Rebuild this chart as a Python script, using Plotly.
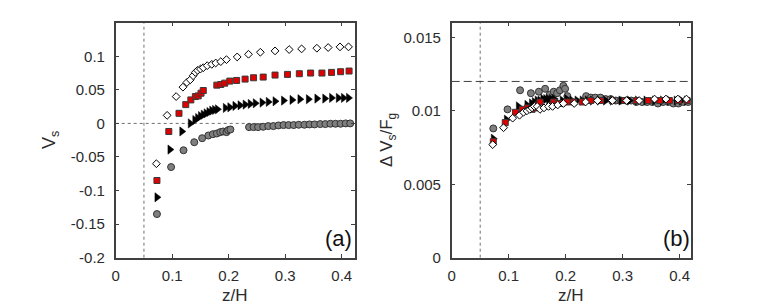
import plotly.graph_objects as go

# ---------------- data ----------------
# open diamonds
z_dia = [0.072, 0.091, 0.107, 0.119, 0.126, 0.132, 0.137, 0.141, 0.145, 0.150, 0.155, 0.162, 0.170,
         0.177, 0.186, 0.196, 0.215, 0.235, 0.256, 0.282, 0.307, 0.329, 0.356, 0.376, 0.397, 0.412]
vs_dia = [-0.060, 0.012, 0.040, 0.054, 0.061, 0.065, 0.071, 0.076, 0.079, 0.081, 0.083, 0.086, 0.088,
          0.090, 0.092, 0.095, 0.099, 0.103, 0.106, 0.108, 0.110, 0.111, 0.112, 0.113, 0.114, 0.114]
dv_dia = [0.0077, 0.00885, 0.0095, 0.0097, 0.0099, 0.0100, 0.0101, 0.0102, 0.0103, 0.0103, 0.0101, 0.0102, 0.0103,
          0.0103, 0.0104, 0.0105, 0.0105, 0.0106, 0.0107, 0.0107, 0.0107, 0.0107, 0.0108, 0.0108, 0.0108, 0.0108]

# red squares
z_sq = [0.073, 0.094, 0.112, 0.124, 0.133, 0.141, 0.146, 0.151, 0.155, 0.179, 0.186, 0.193, 0.202,
        0.214, 0.229, 0.244, 0.261, 0.282, 0.304, 0.325, 0.345, 0.365, 0.382, 0.398, 0.413]
vs_sq = [-0.085, -0.012, 0.015, 0.028, 0.035, 0.040, 0.041, 0.045, 0.049, 0.057, 0.058, 0.060, 0.063,
         0.064, 0.066, 0.068, 0.069, 0.072, 0.073, 0.074, 0.075, 0.075, 0.076, 0.077, 0.078]
dv_sq = [0.0079, 0.0092, 0.0099, 0.0101, 0.0102, 0.0101, 0.0102, 0.0104, 0.0106, 0.0106, 0.0105, 0.0105, 0.0106,
         0.0106, 0.0106, 0.0107, 0.0107, 0.0107, 0.0107, 0.0107, 0.0107, 0.0107, 0.0107, 0.0107, 0.0107]

# black triangles
z_tri = [0.073, 0.096, 0.117, 0.132, 0.140, 0.145, 0.150, 0.155, 0.160, 0.165, 0.170, 0.175, 0.180,
         0.194, 0.202, 0.211, 0.220, 0.229, 0.238, 0.247, 0.259, 0.270, 0.282, 0.297, 0.312, 0.326,
         0.341, 0.356, 0.370, 0.382, 0.394, 0.403, 0.412]
vs_tri = [-0.110, -0.039, -0.012, 0.000, 0.005, 0.008, 0.011, 0.013, 0.015, 0.017, 0.019, 0.020, 0.021,
          0.023, 0.024, 0.026, 0.027, 0.028, 0.029, 0.030, 0.031, 0.032, 0.033, 0.034, 0.035, 0.036,
          0.036, 0.037, 0.037, 0.038, 0.038, 0.038, 0.038]
dv_tri = [0.0081, 0.0094, 0.0103, 0.0104, 0.0105, 0.0106, 0.0107, 0.0107, 0.0108, 0.0108, 0.0108, 0.0108, 0.0108,
          0.0107, 0.0108, 0.0107, 0.0107, 0.0107, 0.0107, 0.0107, 0.0107, 0.0107, 0.0107, 0.0107, 0.0107, 0.0107,
          0.0107, 0.0107, 0.0107, 0.0107, 0.0107, 0.0107, 0.0107]

# gray circles
z_cir = [0.073, 0.098, 0.120, 0.139, 0.153, 0.164, 0.172, 0.179, 0.185, 0.190, 0.196, 0.199, 0.203,
         0.236, 0.244, 0.252, 0.261, 0.270, 0.279, 0.288, 0.297, 0.306, 0.315, 0.324, 0.334, 0.343,
         0.352, 0.362, 0.371, 0.380, 0.389, 0.398, 0.407, 0.415]
vs_cir = [-0.135, -0.065, -0.040, -0.028, -0.022, -0.018, -0.016, -0.015, -0.013, -0.012, -0.013, -0.010, -0.009,
          -0.0055, -0.0055, -0.0055, -0.005, -0.004, -0.004, -0.003, -0.0025, -0.0025, -0.0025, -0.002, -0.002, -0.0015,
          -0.0015, -0.001, -0.001, -0.0005, -0.0005, -0.0005, 0.0, 0.0]
dv_cir = [0.0088, 0.0101, 0.0114, 0.0112, 0.0113, 0.0115, 0.0111, 0.0113, 0.0112, 0.0114, 0.0117, 0.0115, 0.0110,
          0.0110, 0.0109, 0.0109, 0.0109, 0.0108, 0.0108, 0.0107, 0.0107, 0.0107, 0.0107, 0.0106, 0.0106, 0.0106,
          0.0106, 0.0105, 0.0106, 0.0106, 0.0105, 0.0105, 0.0106, 0.0106]

x_ticks = [0, 0.1, 0.2, 0.3, 0.4]
x_ticktext = ["0", "0.1", "0.2", "0.3", "0.4"]
ya_ticks = [-0.2, -0.15, -0.1, -0.05, 0, 0.05, 0.1]
ya_ticktext = ["-0.2", "-0.15", "-0.1", "-0.05", "0", "0.05", "0.1"]
yb_ticks = [0, 0.005, 0.01, 0.015]
yb_ticktext = ["0", "0.005", "0.01", "0.015"]

z_wall = 0.05
dv_ref = 0.012

# ---------------- figure ----------------
# page has an 8px body margin: the figure is drawn 8px in from the window's corner
OFF = 8
W, H = 763 - OFF, 305 - OFF


def px(x):
    return (x - OFF) / W


def py(y):
    return 1 - (y - OFF) / H


FONT = "Liberation Sans, Arial, sans-serif"
TXT = "#2b2b2b"
FRAME = "#404040"

fig = go.Figure()

styles = {
    "cir": dict(symbol="circle", size=7, color="#7f7f7f", line=dict(color="#333333", width=1)),
    "tri": dict(symbol="triangle-right", size=8, color="#000000", line=dict(color="#000000", width=0.5)),
    "sq": dict(symbol="square", size=6, color="#e00000", line=dict(color="#3a3a3a", width=1)),
    "dia": dict(symbol="diamond", size=6, color="#ffffff", line=dict(color="#000000", width=1)),
}

series = [
    (z_cir, vs_cir, dv_cir, "cir"),
    (z_tri, vs_tri, dv_tri, "tri"),
    (z_sq, vs_sq, dv_sq, "sq"),
    (z_dia, vs_dia, dv_dia, "dia"),
]

for z, vs, dv, key in series:
    fig.add_trace(go.Scatter(x=z, y=vs, mode="markers", marker=styles[key],
                             xaxis="x", yaxis="y", showlegend=False))
for z, vs, dv, key in series:
    fig.add_trace(go.Scatter(x=z, y=dv, mode="markers", marker=styles[key],
                             xaxis="x2", yaxis="y2", showlegend=False))

xdomA = [px(115.7), px(355)]
xdomB = [px(451.7), px(691)]
ydom = [py(257.7), py(22.7)]

axis_common = dict(showgrid=False, zeroline=False, showline=True, linecolor=FRAME, linewidth=1.5,
                   mirror="allticks", ticks="inside", ticklen=4, tickwidth=1, tickcolor=FRAME,
                   automargin=False,
                   tickfont=dict(family=FONT, size=15, color=TXT))

fig.update_layout(
    width=W, height=H,
    margin=dict(l=0, r=0, t=0, b=0, autoexpand=False),
    paper_bgcolor="white", plot_bgcolor="white",
    xaxis=dict(domain=xdomA, range=[0, 0.4235], tickvals=x_ticks, ticktext=x_ticktext,
               anchor="y", ticklabelstandoff=4, **axis_common),
    yaxis=dict(domain=ydom, range=[-0.2, 0.15], tickvals=ya_ticks, ticktext=ya_ticktext,
               anchor="x", ticklabelstandoff=6, **axis_common),
    xaxis2=dict(domain=xdomB, range=[0, 0.42], tickvals=x_ticks, ticktext=x_ticktext,
                anchor="y2", ticklabelstandoff=4, **axis_common),
    yaxis2=dict(domain=ydom, range=[0, 0.016], tickvals=yb_ticks, ticktext=yb_ticktext,
                anchor="x2", ticklabelstandoff=6, **axis_common),
    shapes=[
        dict(type="line", xref="x", yref="paper", x0=z_wall, x1=z_wall, y0=ydom[0], y1=ydom[1],
             line=dict(color="#707070", width=1, dash="dot"), layer="below"),
        dict(type="line", xref="paper", yref="y", x0=xdomA[0], x1=xdomA[1], y0=0, y1=0,
             line=dict(color="#707070", width=1, dash="dot"), layer="below"),
        dict(type="line", xref="x2", yref="paper", x0=z_wall, x1=z_wall, y0=ydom[0], y1=ydom[1],
             line=dict(color="#707070", width=1, dash="dot"), layer="below"),
        dict(type="line", xref="paper", yref="y2", x0=xdomB[0], x1=xdomB[1], y0=dv_ref, y1=dv_ref,
             line=dict(color="#404040", width=1, dash="8px,4px"), layer="below"),
    ],
    annotations=[
        dict(text="z/H", xref="paper", yref="paper", x=px(235.4), y=py(295),
             showarrow=False, font=dict(family=FONT, size=17, color=TXT), xanchor="center", yanchor="middle"),
        dict(text="z/H", xref="paper", yref="paper", x=px(571), y=py(295),
             showarrow=False, font=dict(family=FONT, size=17, color=TXT), xanchor="center", yanchor="middle"),
        dict(text="V<sub>s</sub>", xref="paper", yref="paper", x=px(50), y=py(140), textangle=-90,
             showarrow=False, font=dict(family=FONT, size=18, color=TXT), xanchor="center", yanchor="middle"),
        dict(text="Δ V<sub>s</sub>/F<sub>g</sub>", xref="paper", yref="paper", x=px(388), y=py(140),
             textangle=-90, showarrow=False, font=dict(family=FONT, size=17, color=TXT),
             xanchor="center", yanchor="middle"),
        dict(text="(a)", xref="paper", yref="paper", x=px(338), y=py(238),
             showarrow=False, font=dict(family=FONT, size=22, color="#111111"), xanchor="center", yanchor="middle"),
        dict(text="(b)", xref="paper", yref="paper", x=px(676), y=py(238),
             showarrow=False, font=dict(family=FONT, size=22, color="#111111"), xanchor="center", yanchor="middle"),
    ],
)

fig.write_html("out.html")
